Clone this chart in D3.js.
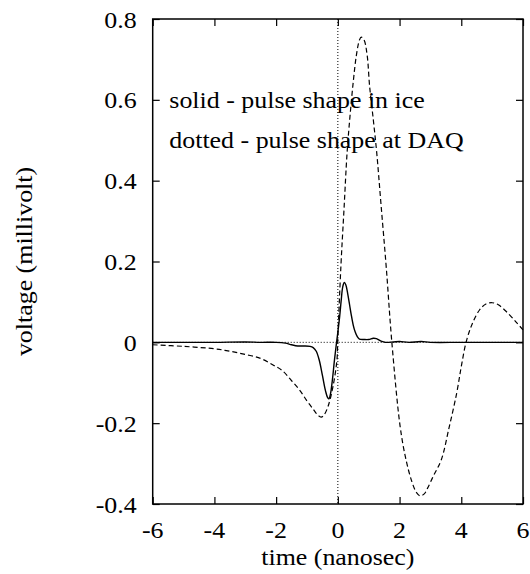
<!DOCTYPE html>
<html><head><meta charset="utf-8">
<script src="https://cdn.jsdelivr.net/npm/d3@7"></script>
<style>body{margin:0;background:#fff}svg{display:block}</style>
</head><body><svg id="c" width="530" height="574"></svg>
<script>
const xTicks = [-6,-4,-2,0,2,4,6];
const xTickLabels = ["-6","-4","-2","0","2","4","6"];
const yTicks = [-0.4,-0.2,0,0.2,0.4,0.6,0.8];
const yTickLabels = ["-0.4","-0.2","0","0.2","0.4","0.6","0.8"];
const xLabel = "time (nanosec)";
const yLabel = "voltage (millivolt)";
const notes = ["solid - pulse shape in ice","dotted - pulse shape at DAQ"];

// solid: pulse shape in ice
const solidT = [-6,-5,-4,-3,-2.5,-2,-1.7,-1.5,-1.3,-1.1,-0.9,-0.8,-0.7,-0.6,-0.5,-0.4,-0.33,-0.29,-0.24,-0.18,-0.11,-0.05,0,0.06,0.11,0.16,0.21,0.26,0.32,0.38,0.43,0.5,0.56,0.63,0.7,0.85,1.0,1.15,1.25,1.4,1.55,1.8,2.0,2.3,2.7,3.0,4.0,5.0,6.0];
const solidV = [0,0,0,0.001,0,0,-0.002,-0.006,-0.009,-0.009,-0.01,-0.013,-0.022,-0.045,-0.082,-0.12,-0.137,-0.14,-0.128,-0.095,-0.044,-0.005,0.025,0.065,0.105,0.138,0.148,0.142,0.12,0.093,0.07,0.042,0.026,0.014,0.008,0.007,0.007,0.01,0.009,0.003,0,0.001,0.002,0,0.002,0,0,0,0];
// dashed: pulse shape at DAQ
const dashT = [-6,-5,-4,-3.5,-3,-2.5,-2.1,-1.8,-1.5,-1.24,-1.0,-0.8,-0.65,-0.54,-0.45,-0.32,-0.16,-0.03,0,0.1,0.2,0.3,0.4,0.5,0.6,0.7,0.76,0.85,0.95,1.03,1.15,1.26,1.4,1.57,1.75,2.02,2.21,2.4,2.55,2.67,2.8,2.9,3.1,3.35,3.61,3.85,4.0,4.155,4.35,4.59,4.8,5.0,5.2,5.5,5.8,6.0];
const dashV = [-0.006,-0.01,-0.016,-0.022,-0.03,-0.04,-0.056,-0.07,-0.095,-0.118,-0.145,-0.165,-0.18,-0.185,-0.18,-0.159,-0.11,-0.044,0.013,0.19,0.33,0.47,0.565,0.645,0.71,0.748,0.755,0.748,0.71,0.633,0.55,0.469,0.34,0.184,0,-0.209,-0.291,-0.345,-0.372,-0.38,-0.375,-0.362,-0.33,-0.291,-0.209,-0.126,-0.06,0,0.045,0.08,0.095,0.098,0.093,0.073,0.048,0.031];

const svg = d3.select("#c");
const L=152.7,R=523,T=19,B=504;
const x = d3.scaleLinear().domain([-6,6]).range([L,R]);
const y = d3.scaleLinear().domain([-0.4,0.8]).range([B,T]);
const FS = 24, SX = 1.08;
const FONT = "'Liberation Serif', 'Times New Roman', Times, 'Nimbus Roman', serif";

function label(txt, px, py, anchor, rot){
  const g = svg.append("g").attr("transform",`translate(${px},${py})${rot?` rotate(${rot})`:""} scale(${SX},1)`);
  g.append("text").attr("text-anchor",anchor).attr("font-family",FONT).attr("font-size",FS).attr("fill","#000").text(txt);
}

// zero reference lines (dotted)
svg.append("line").attr("x1",x(0)).attr("x2",x(0)).attr("y1",T).attr("y2",B)
  .attr("stroke","#000").attr("stroke-width",1).attr("stroke-dasharray","1,2");
svg.append("line").attr("x1",L).attr("x2",R).attr("y1",y(0)).attr("y2",y(0))
  .attr("stroke","#000").attr("stroke-width",1).attr("stroke-dasharray","1,2");

// axes ticks (inward, mirrored)
const tickStyle = g => { g.select(".domain").remove(); g.selectAll("text").remove(); g.selectAll("line").attr("stroke","#000").attr("stroke-width",1.2); };
svg.append("g").attr("transform",`translate(0,${B})`).call(d3.axisBottom(x).tickValues(xTicks).tickSize(-7)).call(tickStyle);
svg.append("g").attr("transform",`translate(0,${T})`).call(d3.axisTop(x).tickValues(xTicks).tickSize(-7)).call(tickStyle);
svg.append("g").attr("transform",`translate(${L},0)`).call(d3.axisLeft(y).tickValues(yTicks).tickSize(-7)).call(tickStyle);
svg.append("g").attr("transform",`translate(${R},0)`).call(d3.axisRight(y).tickValues(yTicks).tickSize(-7)).call(tickStyle);

// curves
const lineGen = d3.line().x(d=>x(d[0])).y(d=>y(d[1])).curve(d3.curveCatmullRom.alpha(0.5));
svg.append("path").datum(dashT.map((t,i)=>[t,dashV[i]])).attr("d",lineGen)
  .attr("fill","none").attr("stroke","#000").attr("stroke-width",1.2).attr("stroke-dasharray","5,3");
svg.append("path").datum(solidT.map((t,i)=>[t,solidV[i]])).attr("d",lineGen)
  .attr("fill","none").attr("stroke","#000").attr("stroke-width",1.4);

// frame
svg.append("rect").attr("x",L).attr("y",T).attr("width",R-L).attr("height",B-T)
  .attr("fill","none").attr("stroke","#000").attr("stroke-width",1.5);

// tick labels
xTicks.forEach((t,i)=>label(xTickLabels[i], x(t), 538, "middle"));
yTicks.forEach((v,i)=>label(yTickLabels[i], 136.7, y(v)+8.5, "end"));

// axis labels
label(xLabel, (L+R)/2, 565, "middle");
label(yLabel, 32, (T+B)/2, "middle", -90);

// notes
label(notes[0], 169.3, 108.3, "start");
label(notes[1], 169.3, 148.3, "start");
</script></body></html>
